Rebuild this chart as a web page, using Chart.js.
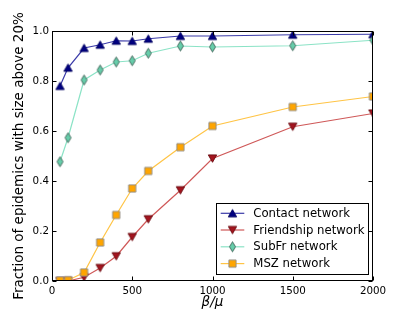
<!DOCTYPE html>
<html>
<head>
<meta charset="utf-8">
<script src="https://cdn.jsdelivr.net/npm/chart.js@4.4.0/dist/chart.umd.min.js"></script>
<style>
  html, body { margin: 0; padding: 0; background: #fff; }
  canvas { display: block; }
</style>
</head>
<body>
<canvas id="epidemicChart" width="415" height="312"></canvas>
<script>
// values
const betaOverMu = [50, 100, 200, 300, 400, 500, 600, 800, 1000, 1500, 2000];
const contactFrac = [0.78, 0.853, 0.932, 0.945, 0.961, 0.960, 0.969, 0.980, 0.980, 0.985, 0.987];
const friendshipFrac = [0.0, 0.0, 0.015, 0.052, 0.099, 0.176, 0.247, 0.363, 0.490, 0.617, 0.670];
const subfrFrac = [0.477, 0.573, 0.804, 0.844, 0.876, 0.881, 0.911, 0.940, 0.936, 0.941, 0.963];
const mszFrac = [0.002, 0.003, 0.034, 0.154, 0.264, 0.370, 0.440, 0.535, 0.620, 0.696, 0.738];
const seriesNames = ["Contact network", "Friendship network", "SubFr network", "MSZ network"];
const xTickValues = [0, 500, 1000, 1500, 2000];
const yTickValues = [0, 0.2, 0.4, 0.6, 0.8, 1.0];

const FONT = "'DejaVu Sans', sans-serif";

// little offscreen canvases used as point styles (matplotlib-like markers)
function makeMarker(shape, fill, edge) {
  const c = document.createElement("canvas");
  c.width = 13;
  c.height = 13;
  const g = c.getContext("2d");
  g.translate(6.5, 6.5);
  g.beginPath();
  if (shape === "up") {
    g.moveTo(0, -3.8); g.lineTo(4.2, 3.6); g.lineTo(-4.2, 3.6);
  } else if (shape === "down") {
    g.moveTo(0, 3.8); g.lineTo(4.2, -3.6); g.lineTo(-4.2, -3.6);
  } else if (shape === "diamond") {
    g.moveTo(0, -5); g.lineTo(3, 0); g.lineTo(0, 5); g.lineTo(-3, 0);
  } else {
    g.rect(-3.6, -3.6, 7.2, 7.2);
  }
  g.closePath();
  g.fillStyle = fill;
  g.fill();
  g.lineWidth = 0.9;
  g.strokeStyle = edge;
  g.stroke();
  return c;
}

const markers = [
  makeMarker("up", "#000080", "#000060"),
  makeMarker("down", "#a3141e", "#6a0c12"),
  makeMarker("diamond", "#66cdaa", "#3d5f55"),
  makeMarker("square", "#ffa500", "#8c8c8c")
];
const lineColors = ["#3a3aa8", "#cf5858", "#8be3c6", "#ffc445"];
const seriesValues = [contactFrac, friendshipFrac, subfrFrac, mszFrac];

const datasets = seriesNames.map((name, i) => ({
  label: name,
  data: betaOverMu.map((x, j) => ({ x, y: seriesValues[i][j] })),
  borderColor: lineColors[i],
  borderWidth: 1.2,
  pointStyle: markers[i],
  pointRadius: 5,
  pointHoverRadius: 5,
  fill: false,
  tension: 0,
  clip: 0,
  order: 4 - i
}));

const framePlugin = {
  id: "frame",
  afterDraw(chart) {
    const { ctx, chartArea: a, scales: { x, y } } = chart;
    ctx.save();
    ctx.strokeStyle = "#000";
    ctx.lineWidth = 1;
    const L = a.left + 0.5, R = a.right - 0.5, T = a.top + 0.5, B = a.bottom - 0.5;
    ctx.strokeRect(L, T, R - L, B - T);

    // inward ticks on every side
    const tl = 4;
    ctx.beginPath();
    xTickValues.forEach(v => {
      const px = Math.round(x.getPixelForValue(v)) + 0.5;
      ctx.moveTo(px, B); ctx.lineTo(px, B - tl);
      ctx.moveTo(px, T); ctx.lineTo(px, T + tl);
    });
    yTickValues.forEach(v => {
      const py = Math.round(y.getPixelForValue(v)) + 0.5;
      ctx.moveTo(L, py); ctx.lineTo(L + tl, py);
      ctx.moveTo(R, py); ctx.lineTo(R - tl, py);
    });
    ctx.stroke();

    // legend box in the lower right
    const box = { left: 216.5, top: 203.5, right: 368.5, bottom: 274.5 };
    ctx.fillStyle = "#fff";
    ctx.fillRect(box.left, box.top, box.right - box.left, box.bottom - box.top);
    ctx.strokeStyle = "#000";
    ctx.strokeRect(box.left, box.top, box.right - box.left, box.bottom - box.top);
    const rows = [213.3, 230, 246.8, 263.6];
    ctx.font = "11.7px " + FONT;
    ctx.textBaseline = "middle";
    ctx.textAlign = "left";
    seriesNames.forEach((name, i) => {
      const ry = rows[i];
      ctx.strokeStyle = lineColors[i];
      ctx.lineWidth = 1.2;
      ctx.beginPath();
      ctx.moveTo(220.7, ry); ctx.lineTo(244.3, ry);
      ctx.stroke();
      ctx.drawImage(markers[i], 232.5 - 6.5, ry - 6.5);
      ctx.fillStyle = "#000";
      ctx.fillText(name, 253.3, ry + 0.5);
    });
    ctx.restore();
  }
};

new Chart(document.getElementById("epidemicChart").getContext("2d"), {
  type: "line",
  data: { datasets },
  options: {
    responsive: false,
    devicePixelRatio: 1,
    animation: false,
    layout: { padding: { left: 0, top: 31, right: 42, bottom: 0 } },
    plugins: {
      legend: { display: false },
      tooltip: { enabled: false }
    },
    scales: {
      x: {
        type: "linear",
        min: 0,
        max: 2000,
        afterBuildTicks: s => { s.ticks = xTickValues.map(v => ({ value: v })); },
        afterFit: s => { s.height = 31; },
        grid: { display: false, drawTicks: false },
        border: { display: false },
        ticks: {
          padding: 4,
          color: "#000",
          font: { family: FONT, size: 10.3 },
          maxRotation: 0,
          callback: v => String(v)
        },
        title: {
          display: true,
          text: "β/μ",
          color: "#000",
          font: { family: FONT, size: 13.5, style: "italic" },
          padding: { top: 0, bottom: 1 }
        }
      },
      y: {
        min: 0,
        max: 1,
        afterBuildTicks: s => { s.ticks = yTickValues.map(v => ({ value: v })); },
        afterFit: s => { s.width = 52; },
        grid: { display: false, drawTicks: false },
        border: { display: false },
        ticks: {
          padding: 3,
          color: "#000",
          font: { family: FONT, size: 10.3 },
          callback: v => v.toFixed(1)
        },
        title: {
          display: true,
          text: "Fraction of epidemics with size above 20%",
          color: "#000",
          font: { family: FONT, size: 13.5 },
          padding: { top: 11, bottom: 0 }
        }
      }
    }
  },
  plugins: [framePlugin]
});
</script>
</body>
</html>
